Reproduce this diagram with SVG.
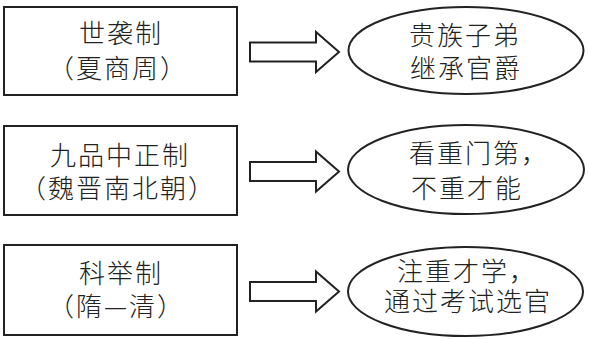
<svg xmlns="http://www.w3.org/2000/svg" xmlns:xlink="http://www.w3.org/1999/xlink" width="589" height="339" viewBox="0 0 589 339">
<style>
.box{fill:#fff;stroke:#222;stroke-width:2}
.ell{fill:#fff;stroke:#222;stroke-width:2}
.arr{fill:#fff;stroke:#222;stroke-width:2;stroke-linejoin:miter}
text{font-family:"Noto Sans CJK SC","Noto Sans CJK JP",sans-serif;font-size:26px;font-weight:300;fill:#222;letter-spacing:2px}
</style>
<defs>
<path id="arrow" d="M0,-9.5 H66 V-20 L89,0 L66,20 V9.5 H0 Z"/>
</defs>
<rect width="589" height="339" fill="#fff"/>
<g id="connectors">
<use xlink:href="#arrow" class="arr" x="250" y="52"/>
<use xlink:href="#arrow" class="arr" x="250" y="171.5"/>
<use xlink:href="#arrow" class="arr" x="250" y="291.5"/>
</g>
<g id="n1">
<rect class="box" x="4" y="7" width="233" height="88"/>
<text x="79" y="43">世袭制</text>
<text x="48" y="78" letter-spacing="3">（夏商周）</text>
</g>
<g id="n2">
<rect class="box" x="4" y="126" width="233" height="89"/>
<text x="50" y="165">九品中正制</text>
<text x="20" y="198" letter-spacing="2.5">（魏晋南北朝）</text>
</g>
<g id="n3">
<rect class="box" x="4" y="245" width="233" height="90"/>
<text x="79" y="283">科举制</text>
<text x="48" y="316" letter-spacing="3">（隋—清）</text>
</g>
<g id="r1">
<ellipse class="ell" cx="466" cy="50.5" rx="117.5" ry="43.5"/>
<text x="409" y="45">贵族子弟</text>
<text x="410" y="78">继承官爵</text>
</g>
<g id="r2">
<ellipse class="ell" cx="466" cy="169.5" rx="118" ry="44.5"/>
<text x="409" y="163">看重门第，</text>
<text x="411" y="198">不重才能</text>
</g>
<g id="r3">
<ellipse class="ell" cx="465.5" cy="291.5" rx="117.5" ry="44.5"/>
<text x="397" y="281">注重才学，</text>
<text x="384" y="311">通过考试选官</text>
</g>
</svg>
